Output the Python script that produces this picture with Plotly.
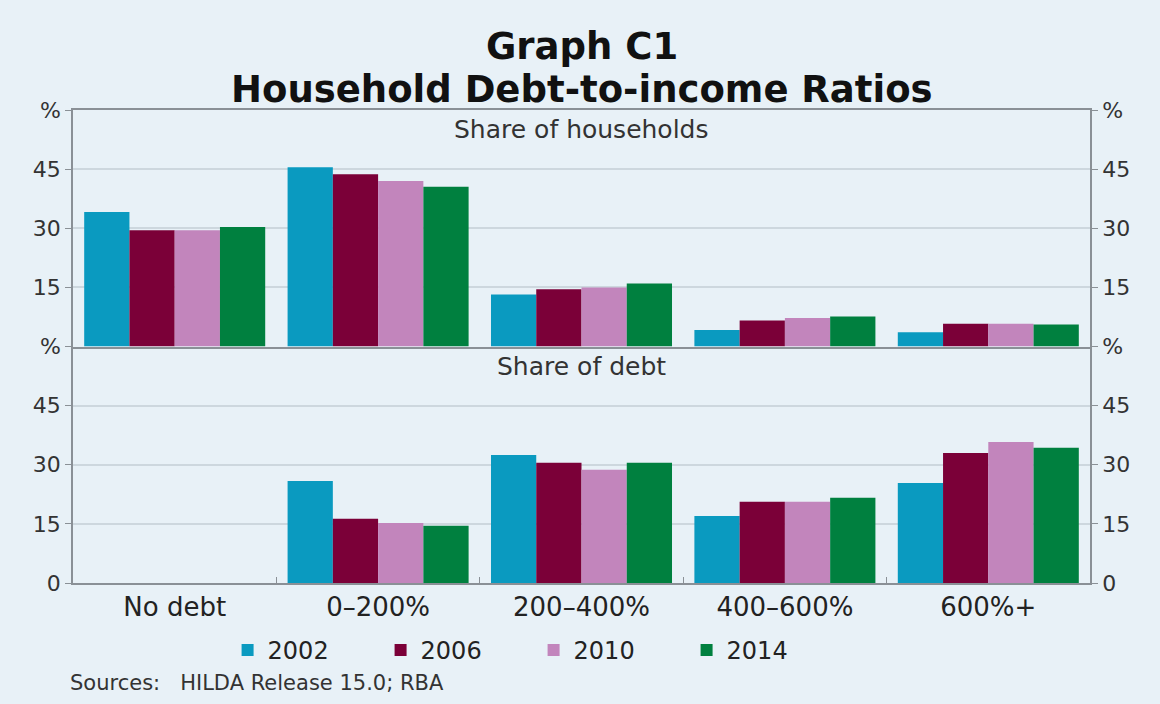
import plotly.graph_objects as go
from plotly.subplots import make_subplots

categories = ["No debt", "0–200%", "200–400%", "400–600%", "600%+"]
years = ["2002", "2006", "2010", "2014"]

# share of households, %
households = {
    "2002": [34.1, 45.5, 13.2, 4.2, 3.6],
    "2006": [29.5, 43.7, 14.5, 6.6, 5.8],
    "2010": [29.5, 42.0, 15.0, 7.2, 5.8],
    "2014": [30.3, 40.5, 16.0, 7.6, 5.6],
}
# share of debt, % (lower panel)
debt = {
    "2002": [0, 25.9, 32.5, 17.0, 25.4],
    "2006": [0, 16.3, 30.5, 20.6, 33.0],
    "2010": [0, 15.2, 28.7, 20.6, 35.8],
    "2014": [0, 14.5, 30.5, 21.6, 34.3],
}

tick_vals = [0, 15, 30, 45, 60]
upper_ticks = ["", "15", "30", "45", "%"]
lower_ticks = ["0", "15", "30", "45", "%"]

COLORS = {"2002": "#0A9AC0", "2006": "#7B0038", "2010": "#C285BC", "2014": "#00803F"}
BG = "#E8F1F7"
FONT = "DejaVu Sans"
AXIS = "#8A9096"
GRID = "#CDD7DE"

fig = make_subplots(
    rows=2,
    cols=1,
    shared_xaxes=True,
    vertical_spacing=0,
    specs=[[{"secondary_y": True}], [{"secondary_y": True}]],
)

for yr in years:
    fig.add_trace(
        go.Bar(x=categories, y=households[yr], name=yr, marker_color=COLORS[yr],
               marker_line_width=0, legendgroup=yr),
        row=1, col=1,
    )
    fig.add_trace(
        go.Bar(x=categories, y=debt[yr], name=yr, marker_color=COLORS[yr],
               marker_line_width=0, legendgroup=yr, showlegend=False),
        row=2, col=1,
    )

# dummy traces so the right-hand axes get drawn
for r in (1, 2):
    fig.add_trace(
        go.Scatter(x=[categories[0]], y=[None], showlegend=False, hoverinfo="skip"),
        row=r, col=1, secondary_y=True,
    )

for r, labels in ((1, upper_ticks), (2, lower_ticks)):
    common = dict(
        range=[0, 60],
        tickmode="array",
        tickvals=tick_vals,
        ticktext=labels,
        tickfont=dict(size=22, color="#333333", family=FONT),
        ticks="outside",
        ticklen=6,
        tickcolor=AXIS,
        showline=True,
        linecolor=AXIS,
        linewidth=1.5,
        zeroline=False,
        fixedrange=True,
    )
    fig.update_yaxes(showgrid=True, gridcolor=GRID, gridwidth=1.5, row=r, col=1,
                     secondary_y=False, **common)
    fig.update_yaxes(showgrid=False, side="right", row=r, col=1, secondary_y=True, **common)

fig.update_xaxes(domain=[0, 1])
fig.update_xaxes(showline=True, linecolor=AXIS, linewidth=1.5, mirror=True,
                 showgrid=False, row=1, col=1)
fig.update_xaxes(showline=True, linecolor=AXIS, linewidth=1.5, showgrid=False,
                 ticks="inside", tickson="boundaries", ticklen=6, tickcolor=AXIS,
                 tickfont=dict(size=26, color="#222222", family=FONT), row=2, col=1)

plot_h = 704 - 110 - 121

fig.update_layout(
    width=1160,
    height=704,
    barmode="group",
    bargap=0.11,
    bargroupgap=0,
    paper_bgcolor=BG,
    plot_bgcolor=BG,
    margin=dict(l=73, r=70, t=110, b=121),
    font=dict(family=FONT, color="#222222"),
    showlegend=True,
    legend=dict(
        orientation="h",
        x=0.152,
        xanchor="left",
        y=-45 / plot_h,
        yanchor="top",
        font=dict(size=24, color="#222222"),
        entrywidth=108,
        bgcolor="rgba(0,0,0,0)",
    ),
    annotations=[
        dict(text="<b>Graph C1</b>", x=0.5, xref="paper", y=1 + (110 - 46) / plot_h,
             yref="paper", yanchor="middle", showarrow=False,
             font=dict(size=37, color="#111111")),
        dict(text="<b>Household Debt-to-income Ratios</b>", x=0.5, xref="paper",
             y=1 + (110 - 90) / plot_h, yref="paper", yanchor="middle", showarrow=False,
             font=dict(size=37, color="#111111")),
        dict(text="Share of households", x=0.5, xref="paper", y=1, yref="paper",
             yanchor="top", yshift=-3, showarrow=False, font=dict(size=25, color="#333333")),
        dict(text="Share of debt", x=0.5, xref="paper", y=0.5, yref="paper",
             yanchor="top", yshift=-3, showarrow=False, font=dict(size=25, color="#333333")),
        dict(text="Sources:   HILDA Release 15.0; RBA", x=0, xref="paper", xanchor="left",
             xshift=-5, y=-(683 - 583) / plot_h, yref="paper", yanchor="middle",
             showarrow=False, font=dict(size=21, color="#333333")),
    ],
)

fig.write_html("out.html", config={"displayModeBar": False},
               post_script="document.body.style.margin='0';")
